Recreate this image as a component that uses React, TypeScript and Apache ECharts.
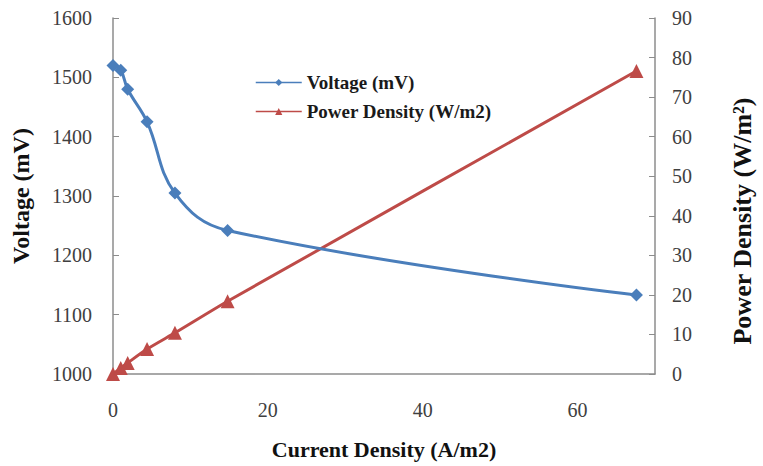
import React, { useEffect, useRef } from "react";
import * as echarts from "echarts";

const currentDensity = [0, 1.0, 1.9, 4.4, 8.0, 14.8, 67.6];
const voltage = [1520, 1512, 1480, 1425, 1305, 1242, 1133];
const powerDensity = [0, 1.5, 2.8, 6.3, 10.4, 18.4, 76.6];

const seriesNames = ["Voltage (mV)", "Power Density (W/m2)"];
const axisNames = ["Current Density (A/m2)", "Voltage (mV)", "Power Density (W/m\u00B2)"];

const FONT = "Liberation Serif";
const BLUE = "#4A7EBB";
const RED = "#BE4B48";
const AXIS = "#8C8C8C";

export default function App() {
  const ref = useRef<HTMLDivElement>(null);
  useEffect(() => {
    document.body.style.margin = "0";
    const chart = echarts.init(ref.current!, null, { renderer: "svg" });
    const labelStyle = {
      fontFamily: FONT,
      fontSize: 20,
      color: "#404040",
      formatter: (v: number) => String(v),
    };
    chart.setOption({
      animation: false,
      backgroundColor: "#ffffff",
      grid: { left: 113, right: 97, top: 18, bottom: 92 },
      legend: {
        orient: "vertical",
        left: 250,
        top: 68,
        itemWidth: 46,
        itemHeight: 9,
        itemGap: 10,
        textStyle: { fontFamily: FONT, fontSize: 19, fontWeight: "bold", color: "#1a1a1a" },
        data: [
          { name: seriesNames[0], lineStyle: { width: 1.5 } },
          { name: seriesNames[1], lineStyle: { width: 1.5 } },
        ],
      },
      xAxis: {
        type: "value",
        min: 0,
        max: 70,
        interval: 20,
        name: axisNames[0],
        nameLocation: "middle",
        nameGap: 64,
        nameTextStyle: { fontFamily: FONT, fontSize: 22, fontWeight: "bold", color: "#111" },
        axisLine: { lineStyle: { color: AXIS, width: 1.5 } },
        axisTick: { show: false },
        axisLabel: { ...labelStyle, margin: 26, showMaxLabel: false },
        splitLine: { show: false },
      },
      yAxis: [
        {
          type: "value",
          min: 1000,
          max: 1600,
          interval: 100,
          name: axisNames[1],
          nameLocation: "middle",
          nameRotate: 90,
          nameGap: 80,
          nameTextStyle: { fontFamily: FONT, fontSize: 24, fontWeight: "bold", color: "#111" },
          axisLine: { show: true, lineStyle: { color: AXIS, width: 1.5 } },
          axisTick: { show: true, inside: true, length: 6, lineStyle: { color: AXIS } },
          axisLabel: { ...labelStyle, margin: 21 },
          splitLine: { show: false },
        },
        {
          type: "value",
          min: 0,
          max: 90,
          interval: 10,
          position: "right",
          name: axisNames[2],
          nameLocation: "middle",
          nameRotate: 90,
          nameGap: 74,
          nameTextStyle: {
            fontFamily: FONT,
            fontSize: 26,
            fontWeight: "bold",
            color: "#111",
            padding: [0, 50, 0, 0],
          },
          axisLine: { show: true, lineStyle: { color: AXIS, width: 1.5 } },
          axisTick: { show: true, inside: true, length: 6, lineStyle: { color: AXIS } },
          axisLabel: { ...labelStyle, margin: 17 },
          splitLine: { show: false },
        },
      ],
      series: [
        {
          name: seriesNames[0],
          type: "line",
          yAxisIndex: 0,
          smooth: 0.4,
          symbol: "diamond",
          symbolSize: 13,
          itemStyle: { color: BLUE },
          lineStyle: { color: BLUE, width: 3 },
          data: currentDensity.map((x, i) => [x, voltage[i]]),
          z: 3,
        },
        {
          name: seriesNames[1],
          type: "line",
          yAxisIndex: 1,
          smooth: 0.2,
          symbol: "triangle",
          symbolSize: 14,
          itemStyle: { color: RED },
          lineStyle: { color: RED, width: 3 },
          data: currentDensity.map((x, i) => [x, powerDensity[i]]),
          z: 2,
        },
      ],
    });
    return () => chart.dispose();
  }, []);
  return <div ref={ref} style={{ width: 763, height: 466 }} />;
}
